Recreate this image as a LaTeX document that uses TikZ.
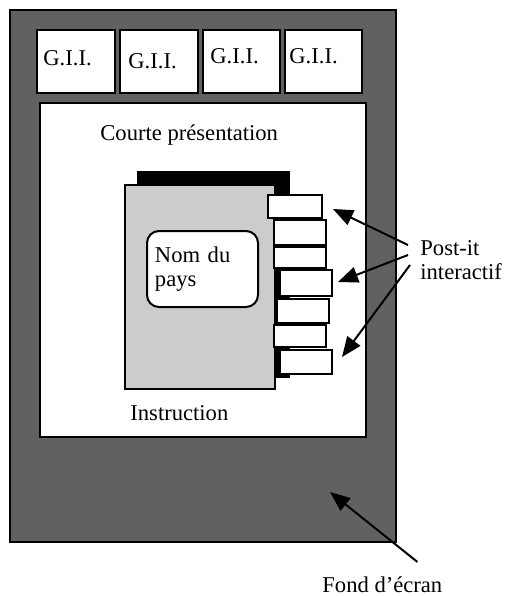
\documentclass[tikz,border=0pt]{standalone}
\usepackage{fontspec}
\setmainfont{Liberation Serif}
\usetikzlibrary{arrows.meta,calc}
\definecolor{fondgris}{gray}{0.38}
\definecolor{livregris}{gray}{0.8}

\begin{document}
\begin{tikzpicture}[x=0.5pt, y=-0.5pt,
	cadre/.style={draw=black, line width=1pt},
	txt/.style={inner sep=0pt, font=\fontsize{11.3}{12}\selectfont},
	fleche/.style={line width=1pt, -{Triangle[length=10pt, width=8pt]}}]
		%%%%% START %%%%%
		\useasboundingbox (0, 0) rectangle (505, 596);
		
		% fond d'ecran
		\draw[cadre, fill=fondgris] (10, 10) rectangle (396, 542);
		
		% bandeau G.I.I.
		\draw[cadre, fill=white] (37, 30) rectangle (115, 93);
		\draw[cadre, fill=white] (120, 30) rectangle (198, 93);
		\draw[cadre, fill=white] (203, 30) rectangle (280, 93);
		\draw[cadre, fill=white] (285, 30) rectangle (362, 93);
		\node[txt, anchor=base west] (gii1) at (43, 65) {G.I.I.};
		\node[txt, anchor=base west] (gii2) at (128, 68) {G.I.I.};
		\node[txt, anchor=base west] (gii3) at (210, 63) {G.I.I.};
		\node[txt, anchor=base west] (gii4) at (289, 63) {G.I.I.};
		
		% zone centrale
		\draw[cadre, fill=white] (40, 103) rectangle (366, 437);
		\node[txt, anchor=base west] (courte) at (100, 140) {Courte présentation};
		
		% livre
		\draw[fill=black] (137, 171) rectangle (289, 377);
		\draw[cadre, fill=livregris] (125, 185) rectangle (275, 389);
		\node[cadre, fill=white, rounded corners=6pt, font=\fontsize{11.3}{12}\selectfont,
			minimum width=55.5pt, minimum height=38pt, inner xsep=4pt,
			text width=47.5pt, align=left] (pays) at (202.5, 269) {Nom du\\pays};
		
		% post-it
		\foreach \xa/\ya/\xb/\yb in {268/195/322/218, 274/220/326/245, 274/247/326/268,
			280/270/332/296, 277/299/329/323, 274/325/326/347, 280/350/332/374}
			\draw[cadre, fill=white] (\xa, \ya) rectangle (\xb, \yb);
		
		\node[txt, anchor=base west] (instruction) at (130, 420) {Instruction};
		
		% legendes
		\node[txt, anchor=north west, align=left] (postit) at (420, 240) {Post-it\\interactif};
		\node[txt, anchor=base west] (fond) at (322, 592) {Fond d’écran};
		
		\coordinate (pointe1) at (333, 209);
		\coordinate (pointe2) at (338, 282);
		\coordinate (pointe3) at (342, 357);
		\coordinate (pointeFond) at (330, 492);
		
		\draw[fleche] ($(postit.north west)+(-12, 5)$) -- (pointe1);
		\draw[fleche] ($(postit.north west)+(-12, 15)$) -- (pointe2);
		\draw[fleche] ($(postit.north west)+(-10, 25)$) -- (pointe3);
		\draw[fleche] ($(fond.north)+(35, -14)$) -- (pointeFond);
		
		%%%%% END %%%%%
	\end{tikzpicture}
\end{document}
